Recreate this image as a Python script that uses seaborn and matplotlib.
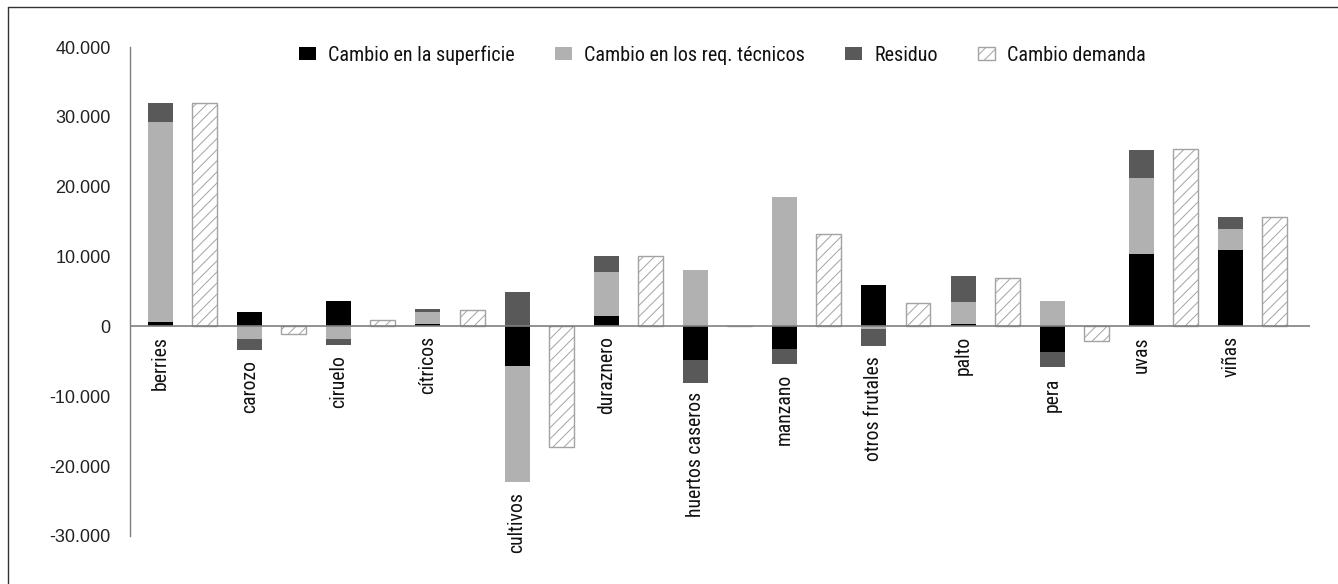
import matplotlib
matplotlib.use("Agg")
import matplotlib.pyplot as plt
from matplotlib import font_manager as fm
from matplotlib.patches import Patch
from matplotlib.lines import Line2D
from matplotlib.ticker import FuncFormatter, FixedLocator
import seaborn as sns
import numpy as np
import pandas as pd

# ---------------- data ----------------
categories = ["berries", "carozo", "ciruelo", "cítricos", "cultivos", "duraznero",
              "huertos caseros", "manzano", "otros frutales", "palto", "pera",
              "uvas", "viñas"]
superficie = [620, 2000, 3580, 290, -5600, 1470, -4800, -3300, 6000, 290, -3720, 10400, 11000]
tecnicos = [28600, -1860, -1860, 1760, -16700, 6300, 8060, 18500, -430, 3150, 3580, 10900, 3000]
residuo = [2760, -1570, -800, 380, 4900, 2290, -3230, -2100, -2400, 3720, -2150, 4000, 1700]
demanda = [32000, -1100, 860, 2400, -17200, 10060, 0, 13270, 3340, 6900, -2100, 25400, 15600]
series_names = ["Cambio en la superficie", "Cambio en los req. técnicos", "Residuo"]
demand_name = "Cambio demanda"
y_ticks = [-30000, -20000, -10000, 0, 10000, 20000, 30000, 40000]

# ---------------- style ----------------
sns.set_theme(style="white")
names = {f.name for f in fm.fontManager.ttflist}
narrow_family, narrow_stretch = None, "normal"
for cand in ["Liberation Sans Narrow", "Roboto Condensed", "Open Sans Condensed", "Noto Sans Condensed"]:
    if cand in names:
        narrow_family = cand
        break
if narrow_family is None:
    for f in fm.fontManager.ttflist:
        if f.name == "DejaVu Sans" and "Condensed" in f.fname:
            narrow_family, narrow_stretch = "DejaVu Sans", "condensed"
            break
if narrow_family is None:
    narrow_family = "Roboto" if "Roboto" in names else "DejaVu Sans"
tick_family = "Liberation Sans" if "Liberation Sans" in names else "DejaVu Sans"

plt.rcParams["font.family"] = [narrow_family, "DejaVu Sans"]
plt.rcParams["axes.unicode_minus"] = False
plt.rcParams["hatch.color"] = "#a8a8a8"
plt.rcParams["hatch.linewidth"] = 0.7

colors = ["#000000", "#b1b1b1", "#595959"]
hatch_edge = "#a3a3a3"
grey_line = "#7f7f7f"
hatch_pat = "///"

fig = plt.figure(figsize=(13.38, 5.84), dpi=100)
ax = fig.add_axes([130 / 1338, 1 - 536 / 584, 1180 / 1338, 489 / 584])

x = np.arange(len(categories))
bar_w = 0.28
offset = 0.495

# stacked bars (positives stack up, negatives stack down)
pos_base = np.zeros(len(categories))
neg_base = np.zeros(len(categories))
for vals, col in zip([superficie, tecnicos, residuo], colors):
    v = np.array(vals, dtype=float)
    bottoms = np.where(v >= 0, pos_base, neg_base)
    ax.bar(x, v, width=bar_w, bottom=bottoms, color=col, edgecolor="none", linewidth=0, zorder=2)
    pos_base = pos_base + np.where(v >= 0, v, 0)
    neg_base = neg_base + np.where(v < 0, v, 0)

# demand bars via seaborn
df_dem = pd.DataFrame({"pos": x + offset, "val": demanda})
sns.barplot(data=df_dem, x="pos", y="val", native_scale=True, width=bar_w,
            color="white", edgecolor=hatch_edge, linewidth=1.0, hatch=hatch_pat,
            errorbar=None, ax=ax, zorder=2, saturation=1)
for p in ax.patches:
    if p.get_facecolor()[:3] == (1.0, 1.0, 1.0):
        p.set_hatch(hatch_pat)
        p.set_edgecolor(hatch_edge)

ax.axhline(0, color=grey_line, lw=1.2, zorder=3)

# axes
ax.set_xlim(-0.34, 12.89)
ax.set_ylim(-30000, 40000)
ax.yaxis.set_major_locator(FixedLocator(y_ticks))
ax.yaxis.set_major_formatter(FuncFormatter(lambda v, p: f"{int(round(v)):,}".replace(",", ".")))
ax.tick_params(axis="y", length=0, pad=14, labelsize=13)
for lab in ax.get_yticklabels():
    lab.set_family(tick_family)
    lab.set_color("#222222")
ax.set_xticks([])
ax.set_xlabel("")
ax.set_ylabel("")
for s in ["top", "right", "bottom"]:
    ax.spines[s].set_visible(False)
ax.spines["left"].set_color(grey_line)
ax.spines["left"].set_linewidth(1.0)

# category labels below the lowest point of each stack
for i, cat in enumerate(categories):
    low = min(0.0, neg_base[i])
    ax.annotate(cat, xy=(i, low), xytext=(0, -7), textcoords="offset points",
                rotation=90, ha="center", va="top", fontsize=14.2,
                fontstretch=narrow_stretch, color="#111111")

# legend
handles = [Patch(facecolor=c, edgecolor="none") for c in colors]
handles.append(Patch(facecolor="white", edgecolor=hatch_edge, hatch=hatch_pat))
leg = ax.legend(handles, series_names + [demand_name], loc="center",
                bbox_to_anchor=(0.502, 0.9836), ncol=4, frameon=False,
                prop={"family": [narrow_family, "DejaVu Sans"], "size": 14.5, "stretch": narrow_stretch},
                handlelength=0.85, handleheight=0.65, handletextpad=0.6,
                columnspacing=2.0, borderpad=0)
for t in leg.get_texts():
    t.set_color("#111111")

# outer frame (left and top edges visible)
fig.add_artist(Line2D([8 / 1338, 8 / 1338], [0, 1 - 7 / 584], transform=fig.transFigure,
                      color="#333333", lw=1.0))
fig.add_artist(Line2D([8 / 1338, 1], [1 - 7 / 584, 1 - 7 / 584], transform=fig.transFigure,
                      color="#333333", lw=1.0))

fig.savefig("out.png", dpi=100, facecolor="white")
